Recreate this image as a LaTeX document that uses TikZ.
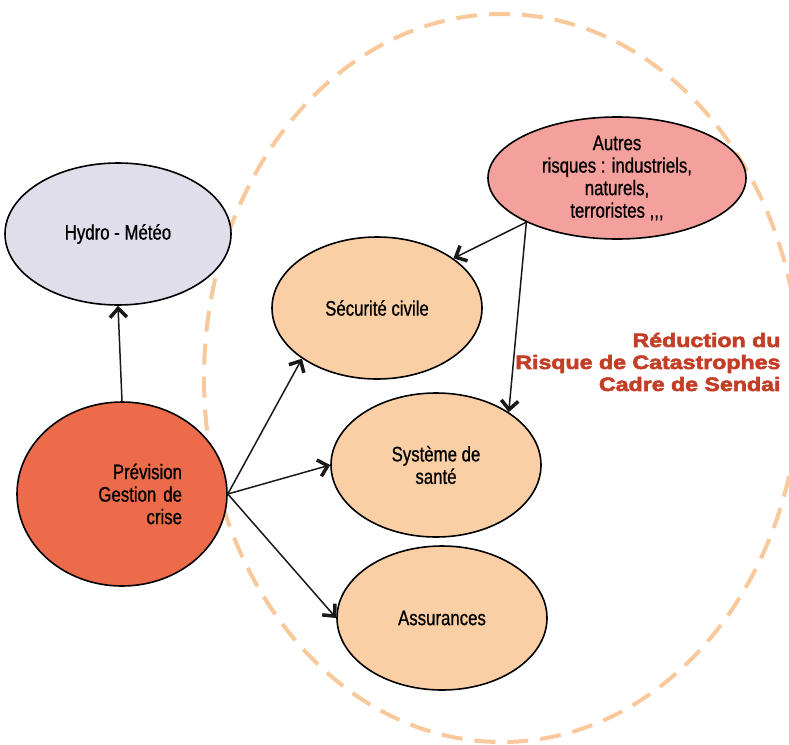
\documentclass[tikz,border=0pt]{standalone}
\usepackage{fontspec}
\usetikzlibrary{shapes.geometric,arrows.meta}
\newfontfamily\bodyfont[FakeStretch=0.8,FakeBold=0.8]{Liberation Sans}
\newfontfamily\redfont[FakeStretch=1.2,FakeBold=3]{Liberation Sans Bold}
\definecolor{hydrofill}{HTML}{E1DEEC}
\definecolor{prevfill}{HTML}{EB6B4B}
\definecolor{peach}{HTML}{FBCFA5}
\definecolor{pinkfill}{HTML}{F4A09C}
\definecolor{dashorange}{HTML}{F9C99C}
\definecolor{redtext}{HTML}{C43E27}
\tikzset{
  bubble/.style={ellipse, draw=black, line width=1.6pt, inner sep=0pt,
    font=\bodyfont\fontsize{21}{22.5}\selectfont, text=black, align=center},
  link/.style={line width=1.5pt, draw=black!90,
    -{Straight Barb[length=9pt,width=17pt,line width=3.5pt]}},
  zone/.style={draw=dashorange, line width=4pt, dash pattern=on 21pt off 12pt}
}
\begin{document}
\begin{tikzpicture}[x=1pt,y=-1pt]
\useasboundingbox (0,0) rectangle (789,744);
\clip (0,0) rectangle (789,744);
\fill[white] (0,0) rectangle (789,744);
% dashed zone
\draw[zone] (502,378) ellipse [x radius=298, y radius=364];
% nodes
\node[bubble, fill=hydrofill, minimum width=226pt, minimum height=142pt] (hydro) at (118,234) {Hydro - Météo};
\node[bubble, fill=prevfill, minimum width=210pt, minimum height=184pt, text width=120pt, align=right] (prev) at (122,494) {Prévision\\Gestion de\\crise};
\node[bubble, fill=peach, minimum width=210pt, minimum height=142pt] (sec) at (377,308) {Sécurité civile};
\node[bubble, fill=peach, minimum width=210pt, minimum height=144pt] (sante) at (436,465) {Système de\\santé};
\node[bubble, fill=peach, minimum width=210pt, minimum height=144pt] (ass) at (442,618) {Assurances};
\node[bubble, fill=pinkfill, minimum width=258pt, minimum height=122pt] (autres) at (617,178) {Autres\\risques : industriels,\\naturels,\\terroristes ,,,};
% label
\node[anchor=east, align=right, text=redtext, font=\redfont\fontsize{19.3}{22}\selectfont] (rrc) at (784,362) {Réduction du\\Risque de Catastrophes\\Cadre de Sendai};
% links
\draw[link] (prev.north) -- (hydro.south);
\draw[link] (prev.east) -- (sec.214);
\draw[link] (prev.east) -- (sante.west);
\draw[link] (prev.east) -- (ass.west);
\draw[link] (autres.206) -- (sec.33);
\draw[link] (autres.206) -- (sante.36);
\end{tikzpicture}
\end{document}
